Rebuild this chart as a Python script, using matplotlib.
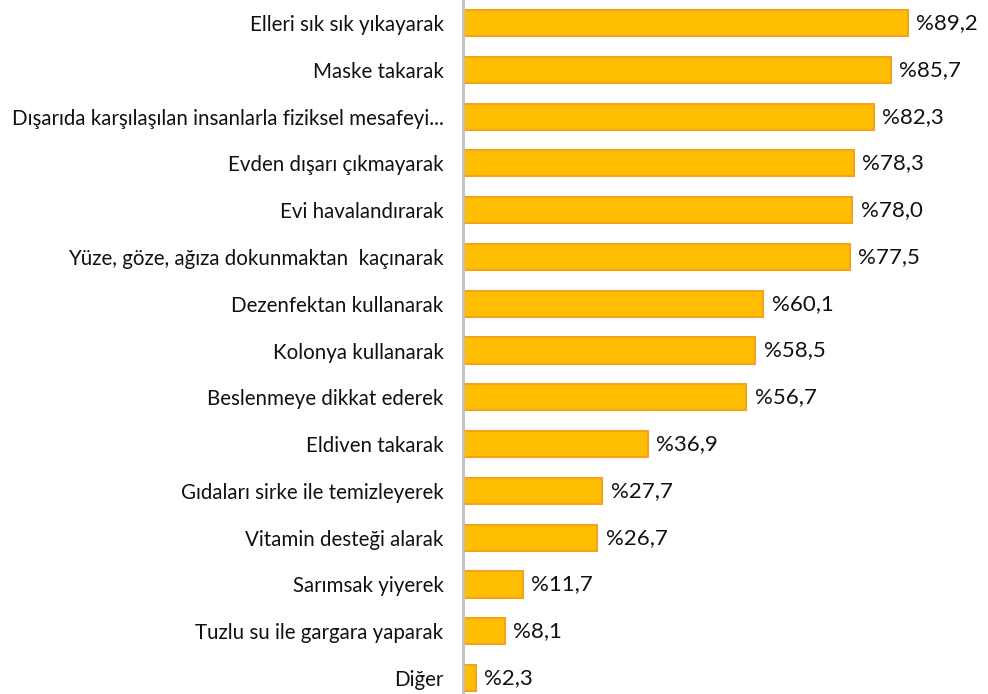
import matplotlib
matplotlib.use("Agg")
import matplotlib.pyplot as plt

categories = [
    "Elleri sık sık yıkayarak",
    "Maske takarak",
    "Dışarıda karşılaşılan insanlarla fiziksel mesafeyi...",
    "Evden dışarı çıkmayarak",
    "Evi havalandırarak",
    "Yüze, göze, ağıza dokunmaktan  kaçınarak",
    "Dezenfektan kullanarak",
    "Kolonya kullanarak",
    "Beslenmeye dikkat ederek",
    "Eldiven takarak",
    "Gıdaları sirke ile temizleyerek",
    "Vitamin desteği alarak",
    "Sarımsak yiyerek",
    "Tuzlu su ile gargara yaparak",
    "Diğer",
]
values = [89.2, 85.7, 82.3, 78.3, 78.0, 77.5, 60.1, 58.5, 56.7, 36.9, 27.7, 26.7, 11.7, 8.1, 2.3]
value_labels = ["%89,2", "%85,7", "%82,3", "%78,3", "%78,0", "%77,5", "%60,1", "%58,5",
                "%56,7", "%36,9", "%27,7", "%26,7", "%11,7", "%8,1", "%2,3"]

plt.rcParams['font.family'] = ['Lato', 'DejaVu Sans']

fig = plt.figure(figsize=(9.88, 6.94), dpi=100)
ax = fig.add_axes([463 / 988, -0.0107, (988 - 463) / 988, 1.0112])

y = list(range(len(categories)))
ax.barh(y, values, height=0.56, color='#FFBF00', edgecolor='#F7A21B', linewidth=1.5, left=0.3)

for yi, v, lab in zip(y, values, value_labels):
    ax.text(v + 2.0, yi, lab, va='center', ha='left', fontsize=16, color='#111111')

ax.set_xlim(0, 105.6)
ax.set_ylim(len(categories) - 0.5, -0.5)
ax.set_yticks(y)
ax.set_yticklabels(categories, fontsize=14.8, color='#111111')
ax.tick_params(axis='y', length=0, pad=14)
ax.set_xticks([])
for s in ['top', 'right', 'bottom']:
    ax.spines[s].set_visible(False)
ax.spines['left'].set_color('#BFBFBF')
ax.spines['left'].set_linewidth(2)

fig.savefig("out.png", dpi=100)
